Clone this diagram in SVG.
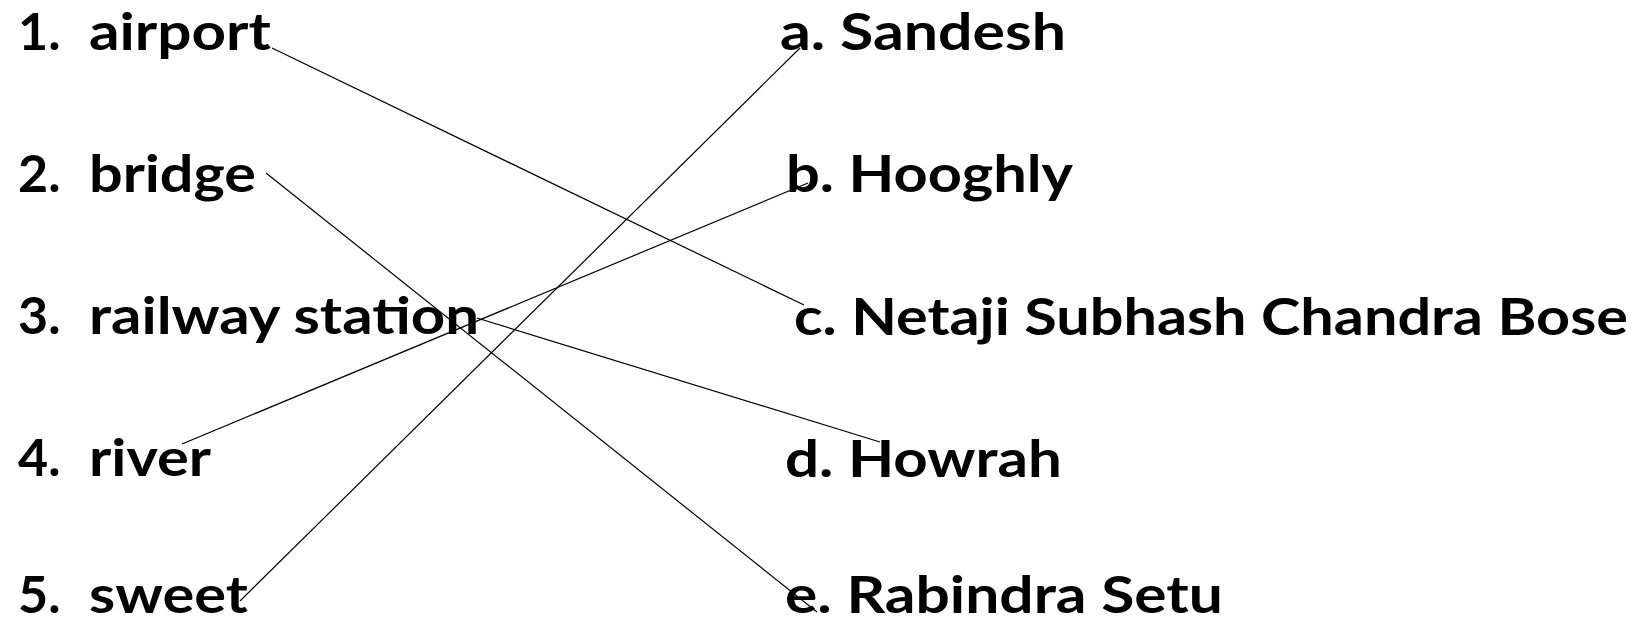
<svg xmlns="http://www.w3.org/2000/svg" width="1634" height="623" viewBox="0 0 1634 623">
  <style>
    .t { font-family: Lato, "Open Sans", "Liberation Sans", sans-serif; font-weight: 700; font-size: 52px; fill: #000; }
    .c line { stroke: #000; stroke-width: 1.2; fill: none; }
  </style>
  <rect width="1634" height="623" fill="#fff"/>
  <g id="left-1"><text class="t" x="18" y="50">1.</text><text class="t" x="89" y="50" textLength="182" lengthAdjust="spacingAndGlyphs">airport</text></g>
  <g id="left-2"><text class="t" x="18" y="192">2.</text><text class="t" x="89" y="192" textLength="167" lengthAdjust="spacingAndGlyphs">bridge</text></g>
  <g id="left-3"><text class="t" x="18" y="334">3.</text><text class="t" x="89" y="334" textLength="390" lengthAdjust="spacingAndGlyphs">railway station</text></g>
  <g id="left-4"><text class="t" x="18" y="476">4.</text><text class="t" x="89" y="476" textLength="122" lengthAdjust="spacingAndGlyphs">river</text></g>
  <g id="left-5"><text class="t" x="18" y="613">5.</text><text class="t" x="89" y="613" textLength="159" lengthAdjust="spacingAndGlyphs">sweet</text></g>

  <g id="right-a"><text class="t" x="780" y="50" textLength="286" lengthAdjust="spacingAndGlyphs">a. Sandesh</text></g>
  <g id="right-b"><text class="t" x="786" y="192" textLength="287" lengthAdjust="spacingAndGlyphs">b. Hooghly</text></g>
  <g id="right-c"><text class="t" x="794" y="335" textLength="834" lengthAdjust="spacingAndGlyphs">c. Netaji Subhash Chandra Bose</text></g>
  <g id="right-d"><text class="t" x="785" y="477" textLength="277" lengthAdjust="spacingAndGlyphs">d. Howrah</text></g>
  <g id="right-e"><text class="t" x="785" y="613" textLength="438" lengthAdjust="spacingAndGlyphs">e. Rabindra Setu</text></g>

  <g id="connectors" class="c">
    <line x1="272" y1="48" x2="804" y2="305"/>
    <line x1="266" y1="173" x2="817" y2="612"/>
    <line x1="477" y1="318" x2="880" y2="442"/>
    <line x1="182" y1="444" x2="808" y2="183"/>
    <line x1="240" y1="601" x2="800" y2="48"/>
  </g>
</svg>
